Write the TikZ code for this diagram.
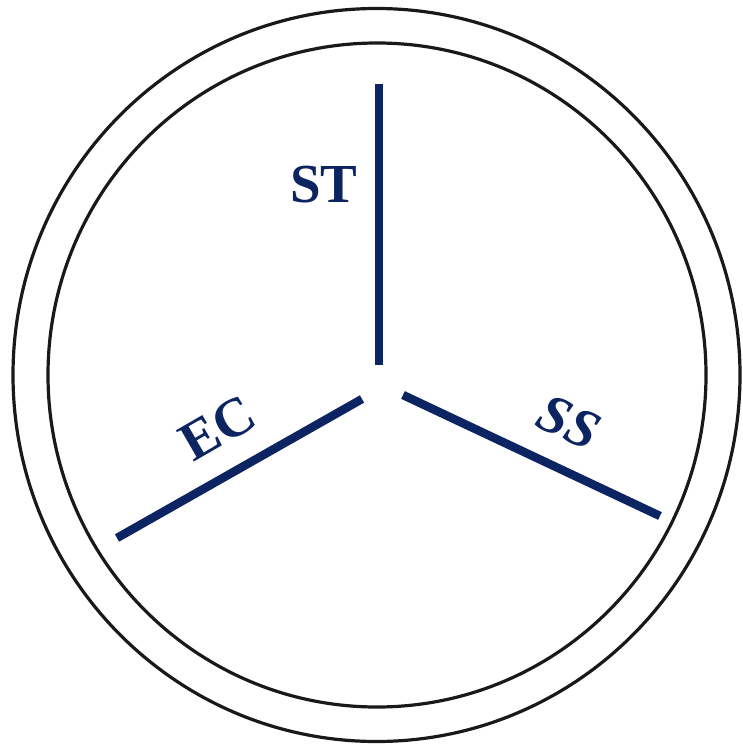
\documentclass[tikz,border=0pt]{standalone}
\usepackage{fontspec}
\setmainfont{Liberation Serif}
\definecolor{navy}{RGB}{12,36,98}
\begin{document}
\begin{tikzpicture}[x=1pt,y=-1pt,
  ring/.style={draw=black!90, line width=3.2pt},
  spoke/.style={draw=navy, line width=8.5pt},
  lbl/.style={text=navy, font=\fontsize{55}{60}\selectfont\bfseries, inner sep=0pt}]
\useasboundingbox (0,0) rectangle (743,746);
\draw[ring] (376.5,375) ellipse [x radius=363.5, y radius=366.5];
\draw[ring] (377,375) ellipse [x radius=329, y radius=332];
\coordinate (sttop) at (379,84);
\coordinate (stbot) at (379,365);
\coordinate (ecin) at (362,399);
\coordinate (ecout) at (117,538);
\coordinate (ssin) at (403,395);
\coordinate (ssout) at (660,516);
\draw[spoke] (sttop) -- (stbot);
\draw[spoke] (ecin) -- (ecout);
\draw[spoke] (ssin) -- (ssout);
\node[lbl] (st) at (324,185) {ST};
\node[lbl, rotate=30] (ec) at (218,428) {EC};
\node[lbl, rotate=-25, font=\fontsize{55}{60}\selectfont\bfseries\itshape] (ss) at (569,422) {SS};
\end{tikzpicture}
\end{document}
